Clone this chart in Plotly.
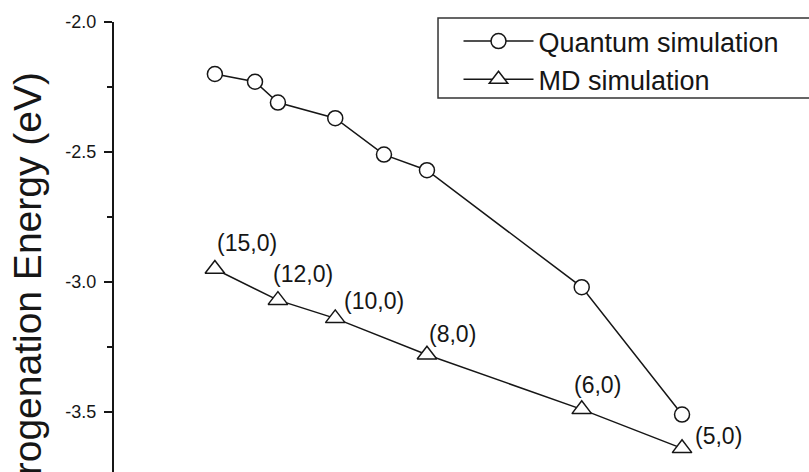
import plotly.graph_objects as go

# Tube curvature 1/d (nm^-1) for the zigzag nanotubes
quantum_x = [0.85, 0.99, 1.07, 1.27, 1.44, 1.59, 2.13, 2.48]
quantum_e = [-2.20, -2.23, -2.31, -2.37, -2.51, -2.57, -3.02, -3.51]

md_x = [0.85, 1.07, 1.27, 1.59, 2.13, 2.48]
md_e = [-2.95, -3.07, -3.14, -3.28, -3.49, -3.64]
md_labels = ["(15,0)", "(12,0)", "(10,0)", "(8,0)", "(6,0)", "(5,0)"]

y_ticks = [-2.0, -2.5, -3.0, -3.5]

FONT = "Liberation Sans, Arial, sans-serif"
INK = "#161616"

fig = go.Figure()
fig.add_trace(go.Scatter(
    x=quantum_x, y=quantum_e, mode="lines+markers", name="Quantum simulation",
    line=dict(color=INK, width=1.5),
    marker=dict(symbol="circle", size=15, color="white", line=dict(color=INK, width=1.5)),
))
fig.add_trace(go.Scatter(
    x=md_x, y=md_e, mode="lines+markers", name="MD simulation",
    line=dict(color=INK, width=1.5),
    marker=dict(symbol="triangle-up", size=17, color="white", line=dict(color=INK, width=1.5)),
))

# chirality labels beside the MD points (pixel offsets)
label_shift = [(32, 26), (25, 26), (39, 17), (26, 21), (16, 24), (36, 12)]
for lx, ly, txt, (dx, dy) in zip(md_x, md_e, md_labels, label_shift):
    fig.add_annotation(x=lx, y=ly, text=txt, showarrow=False, xshift=dx, yshift=dy,
                       font=dict(family=FONT, size=23, color=INK))

# axis title, anchored at its end so the start runs off the page
fig.add_annotation(xref="paper", yref="paper", x=-0.125, y=0.8933,
                   xanchor="center", yanchor="top", textangle=-90, showarrow=False,
                   text="Hydrogenation Energy (eV)",
                   font=dict(family=FONT, size=39, color=INK))

# legend frame, open past the right edge of the page
fig.add_shape(type="rect", xref="paper", yref="paper",
              x0=0.4662, x1=1.03, y0=0.831, y1=1.009,
              line=dict(color="#333333", width=1.5), fillcolor="rgba(0,0,0,0)")

fig.update_xaxes(range=[0.498, 2.923], visible=False)
fig.update_yaxes(
    range=[-3.731, -2.0], tickvals=y_ticks, ticktext=[f"{v:.1f}" for v in y_ticks],
    ticks="outside", ticklen=8, tickwidth=2, tickcolor=INK,
    showline=True, linewidth=2, linecolor=INK, showgrid=False, zeroline=False,
    tickfont=dict(family=FONT, size=18, color=INK), ticklabelstandoff=4,
    minor=dict(dtick=0.25, tick0=-2.0, ticks="outside", ticklen=5, tickwidth=2,
               tickcolor=INK, showgrid=False),
)

fig.update_layout(
    width=809, height=472,
    margin=dict(l=114, r=0, t=22, b=0, autoexpand=False),
    paper_bgcolor="white", plot_bgcolor="white",
    showlegend=True,
    legend=dict(x=0.4957, y=1.011, xanchor="left", yanchor="top",
                borderwidth=0, bgcolor="rgba(0,0,0,0)",
                font=dict(family=FONT, size=27, color=INK),
                itemwidth=70, tracegroupgap=0),
)

fig.write_html("out.html")
